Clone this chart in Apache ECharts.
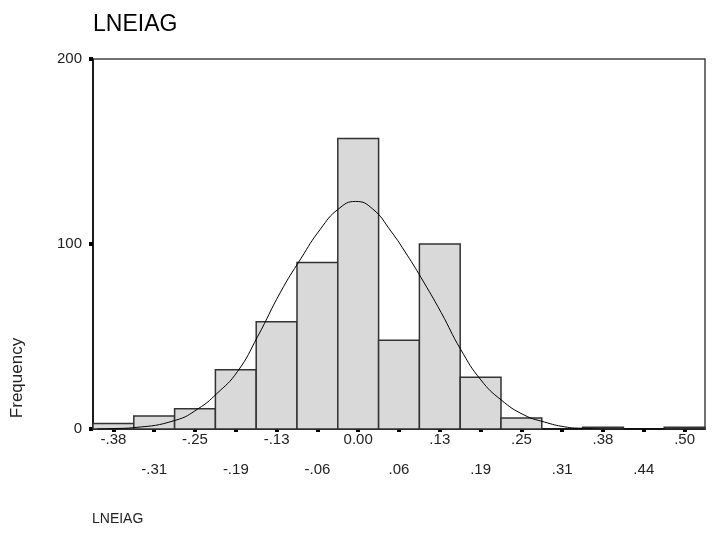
<!DOCTYPE html>
<html>
<head>
<meta charset="utf-8">
<script src="https://cdn.jsdelivr.net/npm/echarts@6/dist/echarts.min.js"></script>
<style>
  html, body { margin: 0; padding: 0; background: #fff; }
  #chart { width: 712px; height: 535px; }
</style>
</head>
<body>
<div id="chart"></div>
<script>
// Histogram bins of LNEIAG (bin width .0625): midpoints, labels and counts
const binMid = [-0.375, -0.3125, -0.25, -0.1875, -0.125, -0.0625, 0, 0.0625, 0.125, 0.1875, 0.25, 0.3125, 0.375, 0.4375, 0.5];
const binLabels = ['-.38', '-.31', '-.25', '-.19', '-.13', '-.06', '0.00', '.06', '.13', '.19', '.25', '.31', '.38', '.44', '.50'];
const frequency = [3, 7, 11, 32, 58, 90, 157, 48, 100, 28, 6, 0, 1, 0, 1];

// Fitted normal curve, sampled along the LNEIAG scale
const curveX = [-0.40, -0.377, -0.342, -0.280, -0.245, -0.217, -0.185, -0.154, -0.119, -0.088, -0.058, -0.030, -0.004, 0.022, 0.050, 0.075, 0.096, 0.127, 0.157, 0.188, 0.219, 0.254, 0.285, 0.316, 0.342, 0.40, 0.53];
const curveY = [0, 0.2, 0.8, 4.7, 11, 19, 31, 50, 74, 92, 108, 119, 123, 119, 107, 94, 82, 63, 43, 26.5, 15.7, 7.6, 3.8, 1.2, 0.4, 0, 0];

const yTicks = [0, 100, 200];

// Axis extents: outer edges of the first and last bins
const binWidth = binMid[1] - binMid[0];
const xLow = binMid[0] - binWidth / 2;
const xHigh = binMid[binMid.length - 1] + binWidth / 2;

const font = 'Arial, "Liberation Sans", sans-serif';
const chart = echarts.init(document.getElementById('chart'));

chart.setOption({
  backgroundColor: '#ffffff',
  animation: false,
  grid: {
    left: 93, right: 7, top: 59, bottom: 106,
    show: true, borderColor: '#444', borderWidth: 1.5, backgroundColor: 'transparent'
  },
  graphic: [
    {
      type: 'text', left: 93, top: 13,
      style: { text: 'LNEIAG', font: '23px ' + font, fill: '#000' }
    },
    {
      type: 'text', left: 92, top: 512,
      style: { text: 'LNEIAG', font: '14px ' + font, fill: '#222' }
    },
    {
      type: 'text', x: 17, y: 378, rotation: Math.PI / 2,
      style: { text: 'Frequency', font: '17px ' + font, fill: '#222', align: 'center', verticalAlign: 'middle' }
    }
  ],
  xAxis: [
    {
      // midpoint labels, alternating between two rows
      type: 'category',
      data: binLabels,
      boundaryGap: true,
      axisLine: { show: true, lineStyle: { color: '#000', width: 1.5 } },
      axisTick: { show: true, alignWithLabel: true, length: 3, lineStyle: { color: '#000', width: 4 } },
      axisLabel: {
        interval: 0, margin: 3, color: '#222', fontSize: 15, fontFamily: font, lineHeight: 15,
        formatter: (v, i) => (i % 2 ? '\n\n' + v : v)
      },
      splitLine: { show: false }
    },
    {
      // continuous LNEIAG scale for the bars and the curve
      type: 'value', min: xLow, max: xHigh, show: false
    }
  ],
  yAxis: {
    type: 'value', min: yTicks[0], max: yTicks[yTicks.length - 1], interval: 100,
    axisLine: { show: true, onZero: false, lineStyle: { color: '#000', width: 1.5 } },
    axisTick: { show: true, length: 4, lineStyle: { color: '#000', width: 4 } },
    axisLabel: { margin: 11, color: '#222', fontSize: 15, fontFamily: font },
    splitLine: { show: false }
  },
  series: [
    {
      type: 'custom',
      xAxisIndex: 1,
      data: binMid.map((m, i) => [m, frequency[i]]),
      renderItem: (params, api) => {
        const mid = api.value(0);
        const count = api.value(1);
        if (!count) return null;
        const p0 = api.coord([mid - binWidth / 2, 0]);
        const p1 = api.coord([mid + binWidth / 2, count]);
        return {
          type: 'rect',
          shape: { x: p0[0], y: p1[1], width: p1[0] - p0[0], height: p0[1] - p1[1] },
          style: { fill: '#d9d9d9', stroke: '#333', lineWidth: 1.5 }
        };
      },
      silent: true
    },
    {
      type: 'line',
      xAxisIndex: 1,
      data: curveX.map((x, i) => [x, curveY[i]]),
      smooth: true,
      showSymbol: false,
      lineStyle: { color: '#000', width: 1 },
      silent: true,
      z: 5
    }
  ]
});
</script>
</body>
</html>
